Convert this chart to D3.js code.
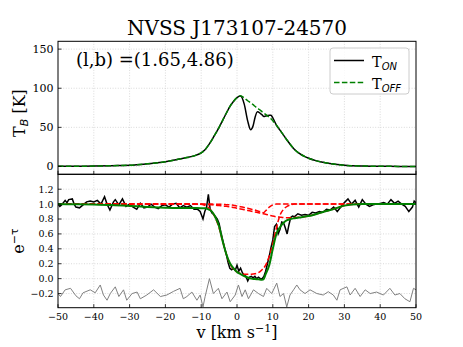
<!DOCTYPE html>
<html><head><meta charset="utf-8">
<script src="https://cdn.jsdelivr.net/npm/d3@7"></script>
<style>body{margin:0;background:#fff}svg{display:block}text{font-family:"DejaVu Serif",serif;fill:#000}</style>
</head><body>
<script>
// ---------- data ----------
const title = "NVSS J173107-24570";
const annot = "(l,b) =(1.65,4.86)";
const xTicks = [-50,-40,-30,-20,-10,0,10,20,30,40,50];
const topYTicks = [0,50,100,150];
const botYTicks = [-0.2,0,0.2,0.4,0.6,0.8,1.0,1.2];

// emission (top panel)
const emisV   = [-50,-45,-40,-35,-30,-25,-20,-17,-15,-12,-10,-9,-8,-7,-6,-5,-4,-3,-2,-1,0,1,2,3,3.8,4.5,5,5.7,6.5,7,7.5,8,9,9.5,10,11,12,13,14,15,16,17,18,19,20,22,25,28,30,35,40,45,50];
const emisOff = [0.2,0.3,0.5,1.0,1.6,3.5,6,8.5,10.5,13.5,17.5,21,27,34,42,50,59,68,76.5,83,88,90.5,87.5,84,81.5,79,77,74.5,72,70,68,66.5,63,61,58.5,53,46.5,40,33.5,27.5,22,18,15,12.5,10.5,7.5,4.5,2.5,1.6,0.6,0.3,0.1,0];
const emisOn  = [0.2,0.3,0.5,1.0,1.6,3.5,6,8.5,10.5,13.5,17.5,21,27,34,42,50,59,68,76.5,83,88,90,80,58,47,52,62,70,68,66,64,64.5,65.5,65.5,62,53,46.5,40,33.5,27.5,22,18,15,12.5,10.5,7.5,4.5,2.5,1.6,0.6,0.3,0.1,0];

// absorption data (bottom panel)
const absV = [-50,-49.5,-49,-48,-47.5,-47,-46,-45.5,-45,-44,-43,-42,-41,-40,-39,-38,-37,-36.3,-35.5,-34.5,-34,-33,-32,-31,-30,-29,-28,-27,-26,-25,-24,-23,-22,-21,-20,-19,-18,-17,-16,-15,-14,-13,-12,-11,-10.3,-9.5,-9,-8.5,-8,-7.5,-7,-6.5,-6,-5.5,-5,-4.5,-4,-3.5,-3,-2.5,-2,-1.5,-1,-0.5,0,0.5,1,1.5,2,2.5,3,3.5,4,4.5,5,5.5,6,6.5,7,7.5,8,8.5,9,9.5,10,10.5,11,11.5,12,12.5,13,13.5,14,14.5,15,15.5,16,17,18,19,20,21,22,23,24,25,26,27,28,29,30,31,32,33,34,35,36,37,38,39,40,41,42,43,44,45,46,47,48,49,49.5,50];
const absData = [1.0,0.97,0.99,1.05,1.02,1.06,1.07,1.0,0.96,0.95,0.99,1.03,1.04,1.03,1.05,1.0,1.1,1.0,0.92,1.03,1.06,0.99,1.07,0.97,1.0,0.96,0.93,1.01,0.95,0.96,1.0,0.96,0.94,0.98,0.99,0.96,1.0,1.01,0.95,0.98,0.96,0.98,0.93,0.93,0.9,0.8,0.9,0.96,1.13,0.93,0.88,0.86,0.83,0.8,0.74,0.62,0.52,0.42,0.33,0.22,0.14,0.12,0.14,0.11,0.18,0.1,0.14,0.08,0.05,0.03,-0.03,0.02,0.03,0.01,0.03,0.0,0.02,0.0,0.0,0.03,0.1,0.2,0.3,0.42,0.52,0.7,0.73,0.6,0.66,0.76,0.75,0.68,0.6,0.72,0.82,0.84,0.83,0.87,0.85,0.86,0.85,0.89,0.88,0.9,0.89,0.93,0.92,0.96,0.9,0.96,1.02,1.07,1.0,1.05,0.96,1.06,1.0,0.97,0.99,1.0,1.01,1.02,1.0,1.06,1.01,1.04,1.0,0.97,0.9,0.96,1.04,1.02];

// residuals (offset), grey
const resV = [-50,-49.3,-48,-46.5,-45,-44,-43,-41,-39.6,-38.2,-37.3,-36.3,-35.4,-34,-33,-31.7,-30.8,-29.3,-27.9,-27,-25.2,-23.3,-21.4,-19.6,-17.7,-15.9,-15,-14,-12.6,-11.2,-10.3,-9.5,-8.9,-7.7,-6.6,-5.2,-4.2,-2.8,-1.9,-0.5,0.4,1.4,2.3,3.2,4.6,6,7.4,8.3,9.7,11.1,12,13,13.9,14.8,15.8,16.7,17.6,19,20.4,22.3,24.1,25.5,26.9,27.9,28.8,30.7,31.6,33,34.4,35.8,37.2,39,40.9,42.7,44.1,45.5,46.9,48.3,49.3,50];
const resVal = [-0.2,-0.24,-0.15,-0.13,-0.23,-0.27,-0.19,-0.15,-0.19,-0.085,-0.22,-0.29,-0.2,-0.11,-0.24,-0.15,-0.29,-0.2,-0.18,-0.27,-0.22,-0.15,-0.24,-0.22,-0.17,-0.13,-0.27,-0.24,-0.18,-0.29,-0.22,-0.38,-0.24,0.0,-0.2,-0.13,-0.27,-0.18,-0.31,-0.22,-0.085,-0.24,-0.15,-0.27,-0.15,-0.2,-0.24,-0.13,-0.2,-0.06,-0.24,-0.2,-0.38,-0.22,-0.15,-0.085,-0.15,-0.2,-0.15,-0.2,-0.22,-0.175,-0.22,-0.29,-0.15,-0.11,-0.22,-0.13,-0.24,-0.15,-0.2,-0.18,-0.22,-0.13,-0.22,-0.2,-0.27,-0.31,-0.13,-0.15];

// total fit (green)
const fitV   = [-50,-45,-40,-35,-30,-25,-20,-17,-10,-9,-8.5,-8,-7,-6,-5,-4,-3,-2,-1,0,1,2,3,4,5,6,7,7.4,8,9,10,11,12,13,14,15,16,18,20,22,24,26,28,30,32,35,40,50];
const fitVal = [1.0,0.999,0.995,0.988,0.976,0.962,0.952,0.948,0.946,0.944,0.94,0.93,0.9,0.82,0.7,0.5,0.33,0.21,0.14,0.09,0.06,0.035,0.015,0.0,-0.005,-0.01,-0.015,-0.01,0.06,0.18,0.4,0.6,0.69,0.75,0.785,0.8,0.81,0.825,0.84,0.865,0.895,0.92,0.95,0.98,0.995,1.0,1.0,1.0];

// individual components (red dashed)
const compV = [-50,-30,-20,-15,-12,-10,-9,-8,-7,-6,-5,-4,-3,-2,-1,0,1,2,3,4,5,6,7,7.4,8,9,10,11,12,13,14,15,16,18,20,22,24,26,28,30,32,35,40,50];
const compA = [1,1,1,1,1,0.998,0.985,0.955,0.9,0.81,0.68,0.5,0.33,0.2,0.13,0.09,0.07,0.06,0.06,0.06,0.065,0.08,0.12,0.14,0.18,0.3,0.47,0.68,0.85,0.93,0.97,0.99,1,1,1,1,1,1,1,1,1,1,1,1];
const compB = [1,1,1,1,1,1,1,1,1,0.999,0.998,0.996,0.993,0.99,0.985,0.975,0.965,0.955,0.945,0.93,0.92,0.905,0.893,0.885,0.91,0.96,0.99,1,1,1,1,1,1,1,1,1,1,1,1,1,1,1,1,1];
const compC = [1,1,1,1,0.999,0.997,0.995,0.993,0.99,0.985,0.98,0.975,0.97,0.965,0.955,0.945,0.935,0.925,0.915,0.905,0.895,0.885,0.875,0.87,0.865,0.85,0.84,0.83,0.825,0.82,0.818,0.818,0.82,0.825,0.84,0.865,0.895,0.92,0.95,0.98,0.995,1,1,1];

// ---------- layout ----------
const W = 463, H = 347;
const X0 = 58, X1 = 416;
const T0 = 41.3, T1 = 174.3, B0 = 174.3, B1 = 307.7;

const svg = d3.select("body").append("svg").attr("width", W).attr("height", H);

const x = d3.scaleLinear().domain([-50, 50]).range([X0, X1]);
const yT = d3.scaleLinear().domain([-10, 160]).range([T1, T0]);
const yB = d3.scaleLinear().domain([-0.39, 1.4]).range([B1, B0]);

const fmtMinus = s => String(s).replace("-", "\u2212");

// clip paths
const defs = svg.append("defs");
defs.append("clipPath").attr("id","clipT").append("rect").attr("x",X0).attr("y",T0).attr("width",X1-X0).attr("height",T1-T0);
defs.append("clipPath").attr("id","clipB").append("rect").attr("x",X0).attr("y",B0).attr("width",X1-X0).attr("height",B1-B0);

// grids
function grid(g, yScale, yTicks, y0, y1) {
  g.selectAll(".gx").data(xTicks.slice(1,-1)).join("line")
    .attr("x1", d => x(d)).attr("x2", d => x(d)).attr("y1", y0).attr("y2", y1)
    .attr("stroke", "#d0d0d0").attr("stroke-width", 0.8).attr("stroke-dasharray", "1,1.6");
  g.selectAll(".gy").data(yTicks).join("line")
    .attr("x1", X0).attr("x2", X1).attr("y1", d => yScale(d)).attr("y2", d => yScale(d))
    .attr("stroke", "#d0d0d0").attr("stroke-width", 0.8).attr("stroke-dasharray", "1,1.6");
}
grid(svg.append("g"), yT, topYTicks, T0, T1);
grid(svg.append("g"), yB, botYTicks, B0, B1);

// ---------- top panel lines ----------
const lineT = (vs, ts) => d3.line().x(i => x(vs[i])).y(i => yT(ts[i])).curve(d3.curveMonotoneX)(d3.range(vs.length));
const gT = svg.append("g").attr("clip-path","url(#clipT)");
gT.append("path").attr("d", lineT(emisV, emisOn)).attr("fill","none").attr("stroke","#000").attr("stroke-width",1.5);
gT.append("path").attr("d", lineT(emisV, emisOff)).attr("fill","none").attr("stroke","#008000").attr("stroke-width",1.5).attr("stroke-dasharray","5.5,2.4");

// ---------- bottom panel lines ----------
const gB = svg.append("g").attr("clip-path","url(#clipB)");
const lineLin = (vs, ts) => d3.line().x(i => x(vs[i])).y(i => yB(ts[i]))(d3.range(vs.length));
const lineSm = (vs, ts) => d3.line().x(i => x(vs[i])).y(i => yB(ts[i])).curve(d3.curveMonotoneX)(d3.range(vs.length));
gB.append("path").attr("d", lineLin(resV, resVal)).attr("fill","none").attr("stroke","#808080").attr("stroke-width",1);
gB.append("path").attr("d", lineLin(absV, absData)).attr("fill","none").attr("stroke","#000").attr("stroke-width",1.5);
[compA, compB, compC].forEach(c => {
  gB.append("path").attr("d", lineSm(compV, c)).attr("fill","none").attr("stroke","#ff0000").attr("stroke-width",1.5).attr("stroke-dasharray","5.5,2.4");
});
gB.append("path").attr("d", lineSm(fitV, fitVal)).attr("fill","none").attr("stroke","#008000").attr("stroke-width",2);

// ---------- axes / ticks ----------
const TL = 3.5;
// top panel ticks
svg.append("g").selectAll("line").data(xTicks).join("line")
  .attr("x1", d => x(d)).attr("x2", d => x(d)).attr("y1", T1).attr("y2", T1 - TL).attr("stroke","#000").attr("stroke-width",0.8);
svg.append("g").selectAll("line").data(topYTicks).join("line")
  .attr("x1", X0).attr("x2", X0 + TL).attr("y1", d => yT(d)).attr("y2", d => yT(d)).attr("stroke","#000").attr("stroke-width",0.8);
svg.append("g").selectAll("text").data(topYTicks).join("text")
  .attr("x", X0 - 4.5).attr("y", d => yT(d) + 4).attr("text-anchor","end").attr("font-size", 11).text(d => d);
// bottom panel ticks
svg.append("g").selectAll("line").data(xTicks).join("line")
  .attr("x1", d => x(d)).attr("x2", d => x(d)).attr("y1", B1).attr("y2", B1 - TL).attr("stroke","#000").attr("stroke-width",0.8);
svg.append("g").selectAll("text").data(xTicks).join("text")
  .attr("x", d => x(d)).attr("y", B1 + 12.3).attr("text-anchor","middle").attr("font-size", 9.5).text(d => fmtMinus(d));
svg.append("g").selectAll("line").data(botYTicks).join("line")
  .attr("x1", X0).attr("x2", X0 + TL).attr("y1", d => yB(d)).attr("y2", d => yB(d)).attr("stroke","#000").attr("stroke-width",0.8);
svg.append("g").selectAll("text").data(botYTicks).join("text")
  .attr("x", X0 - 4.5).attr("y", d => yB(d) + 3.4).attr("text-anchor","end").attr("font-size", 9.5).text(d => fmtMinus(d3.format(".1f")(d)));

// frames
svg.append("rect").attr("x",X0).attr("y",T0).attr("width",X1-X0).attr("height",T1-T0).attr("fill","none").attr("stroke","#000").attr("stroke-width",1);
svg.append("rect").attr("x",X0).attr("y",B0).attr("width",X1-X0).attr("height",B1-B0).attr("fill","none").attr("stroke","#000").attr("stroke-width",1);

// ---------- texts ----------
svg.append("text").attr("x", (X0+X1)/2).attr("y", 35).attr("text-anchor","middle").attr("font-size", 20).text(title);
svg.append("text").attr("x", 76).attr("y", 66).attr("font-size", 18).text(annot);

// y labels
const ylT = svg.append("text").attr("transform","translate(25,113) rotate(-90)").attr("text-anchor","middle").attr("font-size",16);
ylT.append("tspan").text("T");
ylT.append("tspan").attr("font-family","DejaVu Sans").attr("font-style","italic").attr("font-size",11).attr("dy",3).text("B");
ylT.append("tspan").attr("dy",-3).text(" [K]");

const ylB = svg.append("text").attr("transform","translate(23.5,241) rotate(-90)").attr("text-anchor","middle").attr("font-size",16);
ylB.append("tspan").text("e");
ylB.append("tspan").attr("font-family","DejaVu Sans").attr("font-size",11).attr("dy",-6).text("\u2212\u03C4");

// x label
const xl = svg.append("text").attr("x", (X0+X1)/2).attr("y", 338).attr("text-anchor","middle").attr("font-size",16);
xl.append("tspan").text("v [km s");
xl.append("tspan").attr("font-size",11).attr("dy",-6).text("\u22121");
xl.append("tspan").attr("dy",6).text("]");

// legend
const lg = svg.append("g");
lg.append("rect").attr("x",330).attr("y",48).attr("width",79).attr("height",46).attr("rx",3)
  .attr("fill","#fff").attr("fill-opacity",0.8).attr("stroke","#cccccc").attr("stroke-width",1);
const legItems = [{sub:"ON", color:"#000", dash:null, y:60.5},{sub:"OFF", color:"#008000", dash:"5.5,2.4", y:82.5}];
legItems.forEach(it => {
  lg.append("line").attr("x1",334).attr("x2",364).attr("y1",it.y).attr("y2",it.y)
    .attr("stroke",it.color).attr("stroke-width",1.5).attr("stroke-dasharray",it.dash);
  const t = lg.append("text").attr("x",372).attr("y",it.y+6.5).attr("font-size",14.5);
  t.append("tspan").text("T");
  t.append("tspan").attr("font-family","DejaVu Sans").attr("font-style","italic").attr("font-size",10).attr("dy",2.5).text(it.sub);
});
</script>
</body></html>
